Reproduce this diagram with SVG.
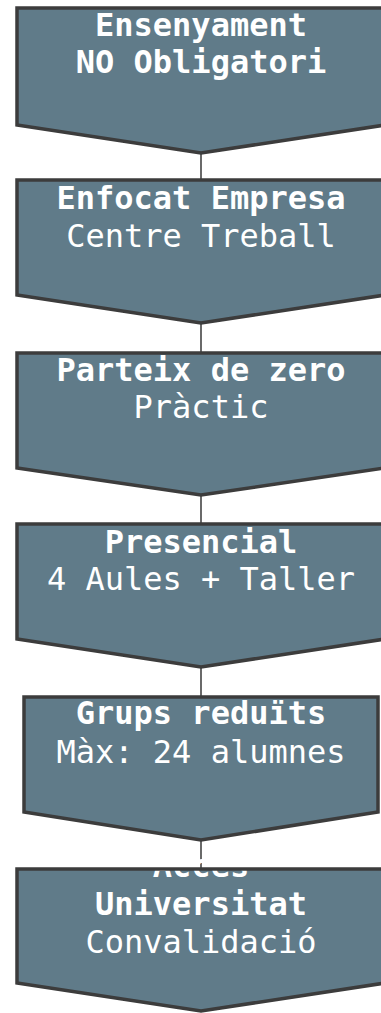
<svg xmlns="http://www.w3.org/2000/svg" width="381" height="1013" viewBox="0 0 381 1013">
<style>
.fill{fill:#607b89;stroke:none}
.outline{fill:none;stroke:#3c3c3c;stroke-width:3.5;stroke-linejoin:miter}
.conn{stroke:#444;stroke-width:1.6;fill:none}
text{font-family:"DejaVu Sans Mono","Liberation Mono",monospace;font-size:32px;fill:#ffffff;text-anchor:middle}
.b{font-weight:bold}
</style>
<rect width="381" height="1013" fill="#ffffff"/>
<g id="connectors">
<line class="conn" x1="201" y1="153" x2="201" y2="180"/>
<line class="conn" x1="201" y1="323" x2="201" y2="353"/>
<line class="conn" x1="201" y1="495" x2="201" y2="524"/>
<line class="conn" x1="201" y1="667" x2="201" y2="697"/>
<line class="conn" x1="201" y1="840" x2="201" y2="869"/>
</g>
<g id="node1">
<polygon class="fill" points="17,8 385,8 385,125 201,153 17,125"/>
<text class="b" x="201" y="36">Ensenyament</text>
<text class="b" x="201" y="73">NO Obligatori</text>
<polygon class="outline" points="17,8 385,8 385,125 201,153 17,125"/>
</g>
<g id="node2">
<polygon class="fill" points="17,180 385,180 385,295 201,323 17,295"/>
<text class="b" x="201" y="209">Enfocat Empresa</text>
<text x="201" y="247">Centre Treball</text>
<polygon class="outline" points="17,180 385,180 385,295 201,323 17,295"/>
</g>
<g id="node3">
<polygon class="fill" points="17,353 385,353 385,468 201,495 17,468"/>
<text class="b" x="201" y="381">Parteix de zero</text>
<text x="201" y="418">Pràctic</text>
<polygon class="outline" points="17,353 385,353 385,468 201,495 17,468"/>
</g>
<g id="node4">
<polygon class="fill" points="17,524 385,524 385,639 201,667 17,639"/>
<text class="b" x="201" y="553">Presencial</text>
<text x="201" y="590">4 Aules + Taller</text>
<polygon class="outline" points="17,524 385,524 385,639 201,667 17,639"/>
</g>
<g id="node5">
<polygon class="fill" points="24,697 378,697 378,812 201,840 24,812"/>
<text class="b" x="201" y="724">Grups reduïts</text>
<text x="201" y="763">Màx: 24 alumnes</text>
<polygon class="outline" points="24,697 378,697 378,812 201,840 24,812"/>
</g>
<g id="node6">
<polygon class="fill" points="17,869 385,869 385,983 201,1011 17,983"/>
<text class="b" x="201" y="877">Accés</text>
<text class="b" x="201" y="915">Universitat</text>
<text x="201" y="953">Convalidació</text>
<polygon class="outline" points="17,869 385,869 385,983 201,1011 17,983"/>
</g>
</svg>
